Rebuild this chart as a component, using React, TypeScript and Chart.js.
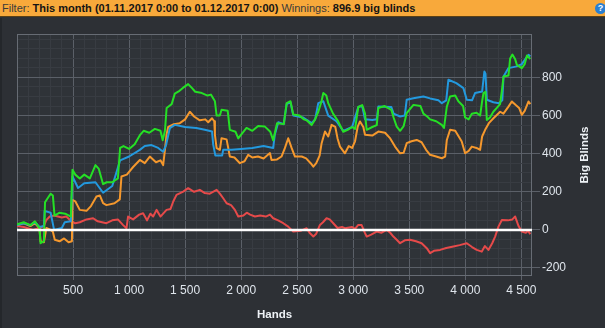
import React, { useEffect, useRef } from 'react';
import { Chart, registerables } from 'chart.js';

Chart.register(...registerables);

// ---- data (hands, big blinds) ----
const greenHands = [
  0, 60, 120, 160, 200, 210, 240, 250, 300, 320,
  335, 380, 430, 480, 495, 520, 560, 600, 650, 700,
  730, 768, 800, 850, 900, 920, 950, 1000, 1050, 1100,
  1130, 1180, 1230, 1280, 1300, 1320, 1335, 1380, 1408, 1450,
  1480, 1527, 1560, 1590, 1640, 1700, 1730, 1766, 1781, 1810,
  1825, 1880, 1899, 1950, 1974, 2000, 2048, 2100, 2152, 2212,
  2260, 2286, 2320, 2380, 2406, 2440, 2465, 2520, 2560, 2584,
  2629, 2660, 2688, 2715, 2733, 2760, 2777, 2820, 2860, 2890,
  2911, 2950, 2990, 3016, 3045, 3080, 3105, 3120, 3170, 3210,
  3224, 3280, 3340, 3360, 3388, 3418, 3450, 3477, 3537, 3600,
  3626, 3660, 3686, 3740, 3790, 3810, 3835, 3864, 3910, 3938,
  3980, 3998, 4030, 4058, 4100, 4132, 4150, 4162, 4180, 4192,
  4220, 4250, 4281, 4310, 4326, 4341, 4385, 4400, 4420, 4445,
  4460, 4504, 4530, 4550, 4580,
];
const greenValues = [
  30, 40, 25, 45, 10, -70, -60, 145, 190, 180,
  75, 90, 85, 70, 315, 290, 270, 290, 270, 340,
  320, 240, 250, 250, 270, 430, 440, 425, 450, 500,
  520, 510, 530, 520, 470, 520, 640, 660, 715, 730,
  745, 765, 745, 725, 720, 705, 710, 675, 600, 600,
  630, 625, 525, 515, 480, 500, 535, 520, 545, 542,
  515, 470, 560, 555, 665, 675, 605, 600, 580, 575,
  550, 580, 620, 670, 718, 705, 665, 610, 575, 540,
  515, 525, 540, 530, 645, 655, 610, 525, 540, 550,
  640, 650, 630, 590, 542, 520, 545, 613, 656, 650,
  610, 595, 580, 570, 551, 535, 647, 700, 705, 675,
  650, 590, 580, 610, 615, 600, 675, 718, 725, 577,
  590, 620, 640, 660, 730, 805, 810, 900, 920, 895,
  866, 849, 870, 915, 897,
];

const blueHands = [
  0, 60, 120, 160, 200, 240, 247, 300, 331, 400,
  426, 480, 495, 545, 600, 700, 768, 850, 920, 1000,
  1096, 1140, 1200, 1260, 1304, 1330, 1364, 1408, 1500, 1600,
  1676, 1740, 1751, 1770, 1830, 1840, 1915, 2000, 2100, 2200,
  2286, 2300, 2331, 2380, 2406, 2440, 2465, 2550, 2629, 2660,
  2688, 2733, 2777, 2850, 2911, 2990, 3045, 3080, 3105, 3170,
  3210, 3224, 3340, 3360, 3418, 3460, 3477, 3537, 3626, 3686,
  3760, 3790, 3830, 3849, 3920, 3983, 4013, 4060, 4087, 4150,
  4170, 4180, 4192, 4250, 4300, 4330, 4341, 4385, 4460, 4504,
  4540, 4564, 4580,
];
const blueValues = [
  25, 35, 25, 40, 15, 20, 100, 90, 0, 10,
  40, 45, 280, 220, 245, 250, 195, 230, 365, 385,
  420, 440, 445, 430, 410, 445, 534, 551, 540, 535,
  525, 516, 446, 390, 390, 420, 420, 425, 430, 440,
  430, 500, 565, 555, 660, 670, 600, 590, 560, 580,
  665, 675, 600, 570, 520, 540, 645, 650, 580, 577,
  580, 647, 645, 610, 595, 600, 683, 691, 700, 690,
  680, 665, 680, 788, 770, 744, 683, 680, 718, 726,
  831, 820, 683, 670, 665, 680, 805, 849, 858, 870,
  900, 919, 910,
];

const orangeHands = [
  0, 60, 120, 160, 200, 210, 240, 262, 300, 320,
  337, 380, 420, 460, 490, 495, 520, 560, 620, 660,
  709, 740, 768, 798, 870, 917, 932, 980, 1036, 1096,
  1140, 1185, 1240, 1280, 1304, 1320, 1334, 1349, 1400, 1453,
  1500, 1542, 1580, 1631, 1680, 1706, 1740, 1760, 1766, 1781,
  1810, 1825, 1870, 1899, 1940, 1989, 2030, 2063, 2100, 2150,
  2200, 2257, 2271, 2320, 2360, 2390, 2420, 2450, 2480, 2540,
  2580, 2620, 2644, 2670, 2700, 2718, 2748, 2777, 2807, 2840,
  2860, 2882, 2926, 2960, 2990, 3016, 3040, 3060, 3090, 3105,
  3170, 3224, 3284, 3330, 3373, 3418, 3450, 3477, 3520, 3566,
  3610, 3650, 3686, 3740, 3790, 3820, 3835, 3864, 3910, 3968,
  3998, 4030, 4058, 4100, 4132, 4150, 4177, 4210, 4251, 4311,
  4340, 4385, 4415, 4450, 4480, 4504, 4530, 4564, 4580,
];
const orangeValues = [
  25, 35, 20, 35, 10, -60, -65, 10, 0, -10,
  -52, -60, -45, -65, -60, 157, 150, 105, 100, 125,
  175, 180, 140, 130, 140, 160, 280, 290, 330, 367,
  350, 385, 355, 365, 340, 420, 500, 540, 555, 560,
  580, 620, 595, 575, 580, 565, 586, 570, 499, 429,
  420, 481, 475, 385, 380, 350, 360, 394, 380, 385,
  375, 403, 367, 370, 385, 429, 481, 430, 385, 385,
  375, 350, 332, 350, 390, 455, 516, 490, 551, 540,
  480, 437, 402, 440, 430, 465, 542, 569, 540, 499,
  495, 516, 510, 480, 437, 402, 405, 455, 465, 472,
  460, 420, 394, 385, 376, 385, 472, 525, 520, 464,
  402, 415, 437, 430, 420, 490, 525, 560, 586, 620,
  610, 647, 674, 655, 640, 604, 625, 674, 660,
];

const redHands = [
  0, 60, 143, 200, 240, 262, 292, 330, 400, 440,
  486, 520, 560, 620, 679, 720, 798, 850, 900, 947,
  977, 991, 1036, 1090, 1125, 1160, 1190, 1215, 1245, 1280,
  1334, 1370, 1394, 1423, 1483, 1527, 1580, 1631, 1676, 1720,
  1781, 1810, 1840, 1870, 1910, 1944, 1974, 2020, 2050, 2080,
  2123, 2170, 2220, 2257, 2286, 2330, 2376, 2420, 2465, 2530,
  2584, 2610, 2644, 2670, 2703, 2730, 2762, 2790, 2822, 2860,
  2900, 2926, 2990, 3016, 3045, 3075, 3105, 3120, 3160, 3209,
  3250, 3299, 3330, 3358, 3388, 3418, 3460, 3507, 3560, 3610,
  3656, 3686, 3720, 3775, 3830, 3894, 3950, 4013, 4060, 4102,
  4147, 4175, 4206, 4240, 4266, 4296, 4326, 4380, 4420, 4445,
  4475, 4504, 4540, 4560, 4580,
];
const redValues = [
  20, 15, 0, 10, 20, 52, 70, 75, 65, 70,
  44, 35, 40, 55, 61, 45, 35, 50, 55, 25,
  9, 70, 55, 80, 87, 50, 85, 70, 105, 70,
  105, 110, 149, 184, 201, 219, 200, 210, 193, 190,
  210, 190, 166, 140, 130, 105, 70, 75, 90, 80,
  70, 75, 70, 80, 61, 50, 35, 17, -9, -5,
  9, -15, -35, -20, 26, 40, 61, 55, 35, 10,
  15, 9, 15, 5, 26, 25, -17, -35, -25, -9,
  -15, 0, -15, -35, -52, -70, -55, -52, -60, -70,
  -96, -122, -110, -105, -95, -87, -80, -70, -90, -105,
  -114, -85, -105, -70, -35, 17, 52, 50, 55, 70,
  20, -9, -15, -5, -22,
];

// ---- axes ----
const xLabelValues = [500, 1000, 1500, 2000, 2500, 3000, 3500, 4000, 4500];
const xTickLabels = ['500', '1 000', '1 500', '2 000', '2 500', '3 000', '3 500', '4 000', '4 500'];
const yLabelValues = [-200, 0, 200, 400, 600, 800];
const yTickLabels = ['-200', '0', '200', '400', '600', '800'];
const X_MIN = 0;
const X_MAX = 4595;
const Y_MIN = -242;
const Y_MAX = 1028;

const OUTER_BG = '#2d3035';
const PLOT_BG = '#2f3338';
const MAJOR_GRID = '#5b6068';
const MINOR_GRID = '#383c42';
const BORDER = '#676c74';
const TICK_COLOR = '#dfe5ec';
const FONT = "'Liberation Sans', Arial, sans-serif";

function toPoints(h: number[], v: number[]) {
  return h.map((x, i) => ({ x, y: v[i] }));
}

export default function App() {
  const ref = useRef<HTMLCanvasElement>(null);

  useEffect(() => {
    document.body.style.margin = '0';
    const canvas = ref.current!;
    const plugin = {
      id: 'decor',
      beforeDraw(chart: any) {
        const { ctx, chartArea: a } = chart;
        ctx.save();
        ctx.fillStyle = PLOT_BG;
        ctx.fillRect(a.left, a.top, a.right - a.left, a.bottom - a.top);
        ctx.restore();
      },
      beforeDatasetsDraw(chart: any) {
        const { ctx, chartArea: a } = chart;
        ctx.save();
        ctx.strokeStyle = BORDER;
        ctx.lineWidth = 1;
        ctx.strokeRect(a.left + 0.5, a.top + 0.5, a.right - a.left - 1, a.bottom - a.top - 1);
        ctx.restore();
      },
      afterDraw(chart: any) {
        const { ctx, chartArea: a } = chart;
        ctx.save();
        ctx.fillStyle = '#eef2f6';
        ctx.font = `bold 11.5px ${FONT}`;
        ctx.textAlign = 'center';
        ctx.textBaseline = 'middle';
        ctx.fillText('Hands', (a.left + a.right) / 2, 297);
        ctx.translate(585, (a.top + a.bottom) / 2);
        ctx.rotate(-Math.PI / 2);
        ctx.fillText('Big Blinds', 0, 0);
        ctx.restore();
      },
    };

    const chart = new Chart(canvas, {
      type: 'line',
      data: {
        datasets: [
          {
            label: 'zero',
            data: [{ x: X_MIN, y: 0 }, { x: X_MAX, y: 0 }],
            borderColor: '#ffffff',
            borderWidth: 2.5,
            pointRadius: 0,
          },
          {
            label: 'Net won',
            data: toPoints(greenHands, greenValues),
            borderColor: '#25e025',
            borderWidth: 2,
            pointRadius: 0,
          },
          {
            label: 'All-in EV',
            data: toPoints(blueHands, blueValues),
            borderColor: '#2399de',
            borderWidth: 2,
            pointRadius: 0,
          },
          {
            label: 'Showdown',
            data: toPoints(orangeHands, orangeValues),
            borderColor: '#f5982d',
            borderWidth: 2,
            pointRadius: 0,
          },
          {
            label: 'Non-showdown',
            data: toPoints(redHands, redValues),
            borderColor: '#e64a4a',
            borderWidth: 2,
            pointRadius: 0,
          },
        ],
      },
      options: {
        animation: false,
        responsive: false,
        devicePixelRatio: 1,
        layout: { padding: { left: 17, top: 16, right: 0, bottom: 0 } },
        plugins: { legend: { display: false }, tooltip: { enabled: false } },
        elements: { line: { tension: 0, borderJoinStyle: 'round' } },
        scales: {
          x: {
            type: 'linear',
            min: X_MIN,
            max: X_MAX,
            afterFit: (s: any) => { s.height = 52; },
            afterBuildTicks: (s: any) => {
              const t = [];
              for (let v = 100; v <= 4500; v += 100) t.push({ value: v });
              s.ticks = t;
            },
            border: { display: false },
            grid: {
              color: (c: any) => (c.tick && xLabelValues.includes(c.tick.value) ? MAJOR_GRID : MINOR_GRID),
              tickColor: (c: any) => (c.tick && xLabelValues.includes(c.tick.value) ? MAJOR_GRID : 'rgba(0,0,0,0)'),
              tickLength: 4,
              lineWidth: 1,
            },
            ticks: {
              autoSkip: false,
              maxRotation: 0,
              padding: 3,
              color: TICK_COLOR,
              font: { family: FONT, size: 12 },
              callback: (v: any) => {
                const i = xLabelValues.indexOf(Number(v));
                return i >= 0 ? xTickLabels[i] : '';
              },
            },
          },
          y: {
            type: 'linear',
            position: 'right',
            min: Y_MIN,
            max: Y_MAX,
            afterFit: (s: any) => { s.width = 73; },
            afterBuildTicks: (s: any) => {
              const t = [];
              for (let v = -200; v <= 1000; v += 50) t.push({ value: v });
              s.ticks = t;
            },
            border: { display: false },
            grid: {
              color: (c: any) => (c.tick && yLabelValues.includes(c.tick.value) ? MAJOR_GRID : MINOR_GRID),
              tickColor: (c: any) => (c.tick && yLabelValues.includes(c.tick.value) ? MAJOR_GRID : 'rgba(0,0,0,0)'),
              tickLength: 8,
              lineWidth: 1,
            },
            ticks: {
              autoSkip: false,
              padding: 2,
              color: TICK_COLOR,
              font: { family: FONT, size: 12 },
              callback: (v: any) => {
                const i = yLabelValues.indexOf(Number(v));
                return i >= 0 ? yTickLabels[i] : '';
              },
            },
          },
        },
      },
      plugins: [plugin],
    } as any);
    return () => chart.destroy();
  }, []);

  return (
    <div style={{ position: 'relative', width: 605, height: 328, background: OUTER_BG, overflow: 'hidden' }}>
      <div
        style={{
          position: 'absolute', left: 0, top: 0, width: 605, height: 17,
          background: '#f8a93b', borderBottom: '1px solid #5a4016',
          font: `11px ${FONT}`, lineHeight: '17px', color: '#3a3a3a',
          whiteSpace: 'nowrap', paddingLeft: 2, boxSizing: 'border-box',
        }}
      >
        Filter: <b style={{ color: '#141414' }}>This month (01.11.2017 0:00 to 01.12.2017 0:00)</b> Winnings:{' '}
        <b style={{ color: '#141414' }}>896.9 big blinds</b>
        <span
          style={{
            position: 'absolute', left: 595, top: 3, width: 11, height: 11, borderRadius: '50%',
            background: '#2b7fd0', color: '#fff', font: `bold 9px ${FONT}`, lineHeight: '11px', textAlign: 'center',
          }}
        >
          ?
        </span>
      </div>
      <div style={{ position: 'absolute', left: 0, top: 18, width: 2, height: 310, background: '#24272b' }} />
      <canvas ref={ref} width={605} height={310} style={{ position: 'absolute', left: 0, top: 18, width: 605, height: 310 }} />
    </div>
  );
}
